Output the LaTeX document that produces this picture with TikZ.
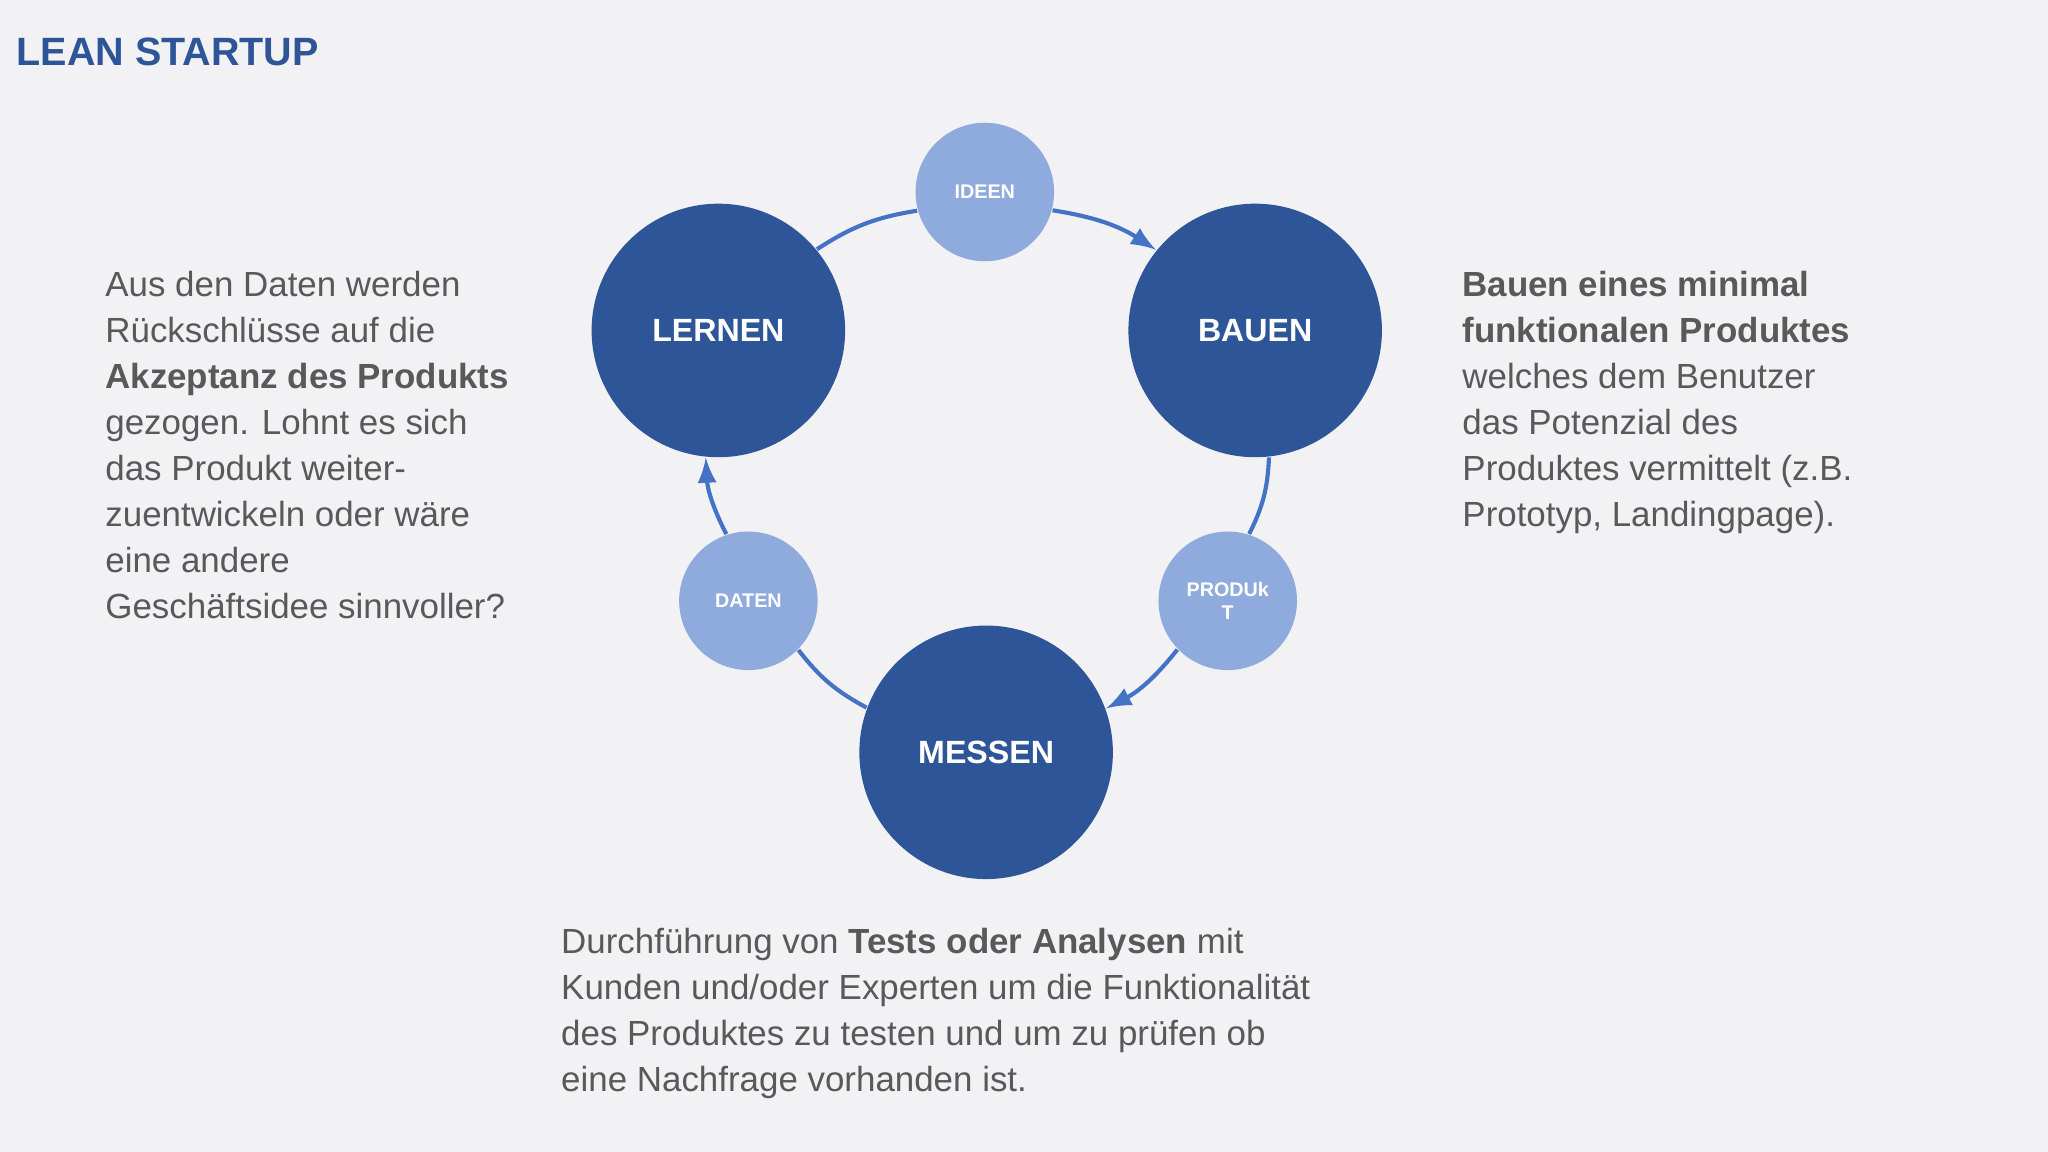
\documentclass[tikz,border=0pt]{standalone}
\usepackage{fontspec}
\setmainfont{Liberation Sans}
\definecolor{bg}{HTML}{F2F2F4}
\definecolor{dark}{HTML}{2E5597}
\definecolor{light}{HTML}{8FAADC}
\definecolor{arr}{HTML}{4472C4}
\definecolor{txt}{HTML}{595959}
\begin{document}
\begin{tikzpicture}[x=0.01cm,y=-0.01cm,
  big/.style={circle,fill=dark,minimum size=1.94cm,inner sep=0pt,text=white,font=\bfseries\fontsize{7}{8}\selectfont},
  small/.style={circle,fill=light,minimum size=1.06cm,inner sep=0pt,text=white,align=center,font=\bfseries\fontsize{4.3}{5.2}\selectfont},
  conn/.style={draw=arr,line width=0.9pt},
  body/.style={anchor=north west,inner sep=0pt,align=left,text=txt,font=\fontsize{7.6}{10}\selectfont}]
\fill[bg] (0,0) rectangle (1568,882);
\node[anchor=west,inner sep=0pt,text=dark,font=\bfseries\fontsize{8.6}{10}\selectfont] (title) at (12,40) {LEAN STARTUP};
\node[big] (lernen) at (550,253) {LERNEN};
\node[big] (bauen) at (961,253) {BAUEN};
\node[big] (messen) at (755,576) {MESSEN};
\node[small] (ideen) at (754,147) {IDEEN};
\node[small] (daten) at (573,460) {DATEN};
\node[small] (produkt) at (940,460) {PRODUk\\T};
\draw[conn] (lernen) to[bend left=12] (ideen);
\draw[conn,-latex] (ideen) to[bend left=12] (bauen);
\draw[conn] (bauen) to[bend left=12] (produkt);
\draw[conn,-latex] (produkt) to[bend left=12] (messen);
\draw[conn] (messen) to[bend left=12] (daten);
\draw[conn,-latex] (daten) to[bend left=12] (lernen);
\node[body] (lefttext) at (80,207) {Aus den Daten werden\\Rückschlüsse auf die\\\textbf{Akzeptanz des Produkts}\\gezogen. Lohnt es sich\\das Produkt weiter-\\zuentwickeln oder wäre\\eine andere\\Geschäftsidee sinnvoller?};
\node[body] (righttext) at (1119,207) {\textbf{Bauen eines minimal}\\\textbf{funktionalen Produktes}\\welches dem Benutzer\\das Potenzial des\\Produktes vermittelt (z.B.\\Prototyp, Landingpage).};
\node[body] (bottomtext) at (429,710) {Durchführung von \textbf{Tests oder Analysen} mit\\Kunden und/oder Experten um die Funktionalität\\des Produktes zu testen und um zu prüfen ob\\eine Nachfrage vorhanden ist.};
\end{tikzpicture}
\end{document}
